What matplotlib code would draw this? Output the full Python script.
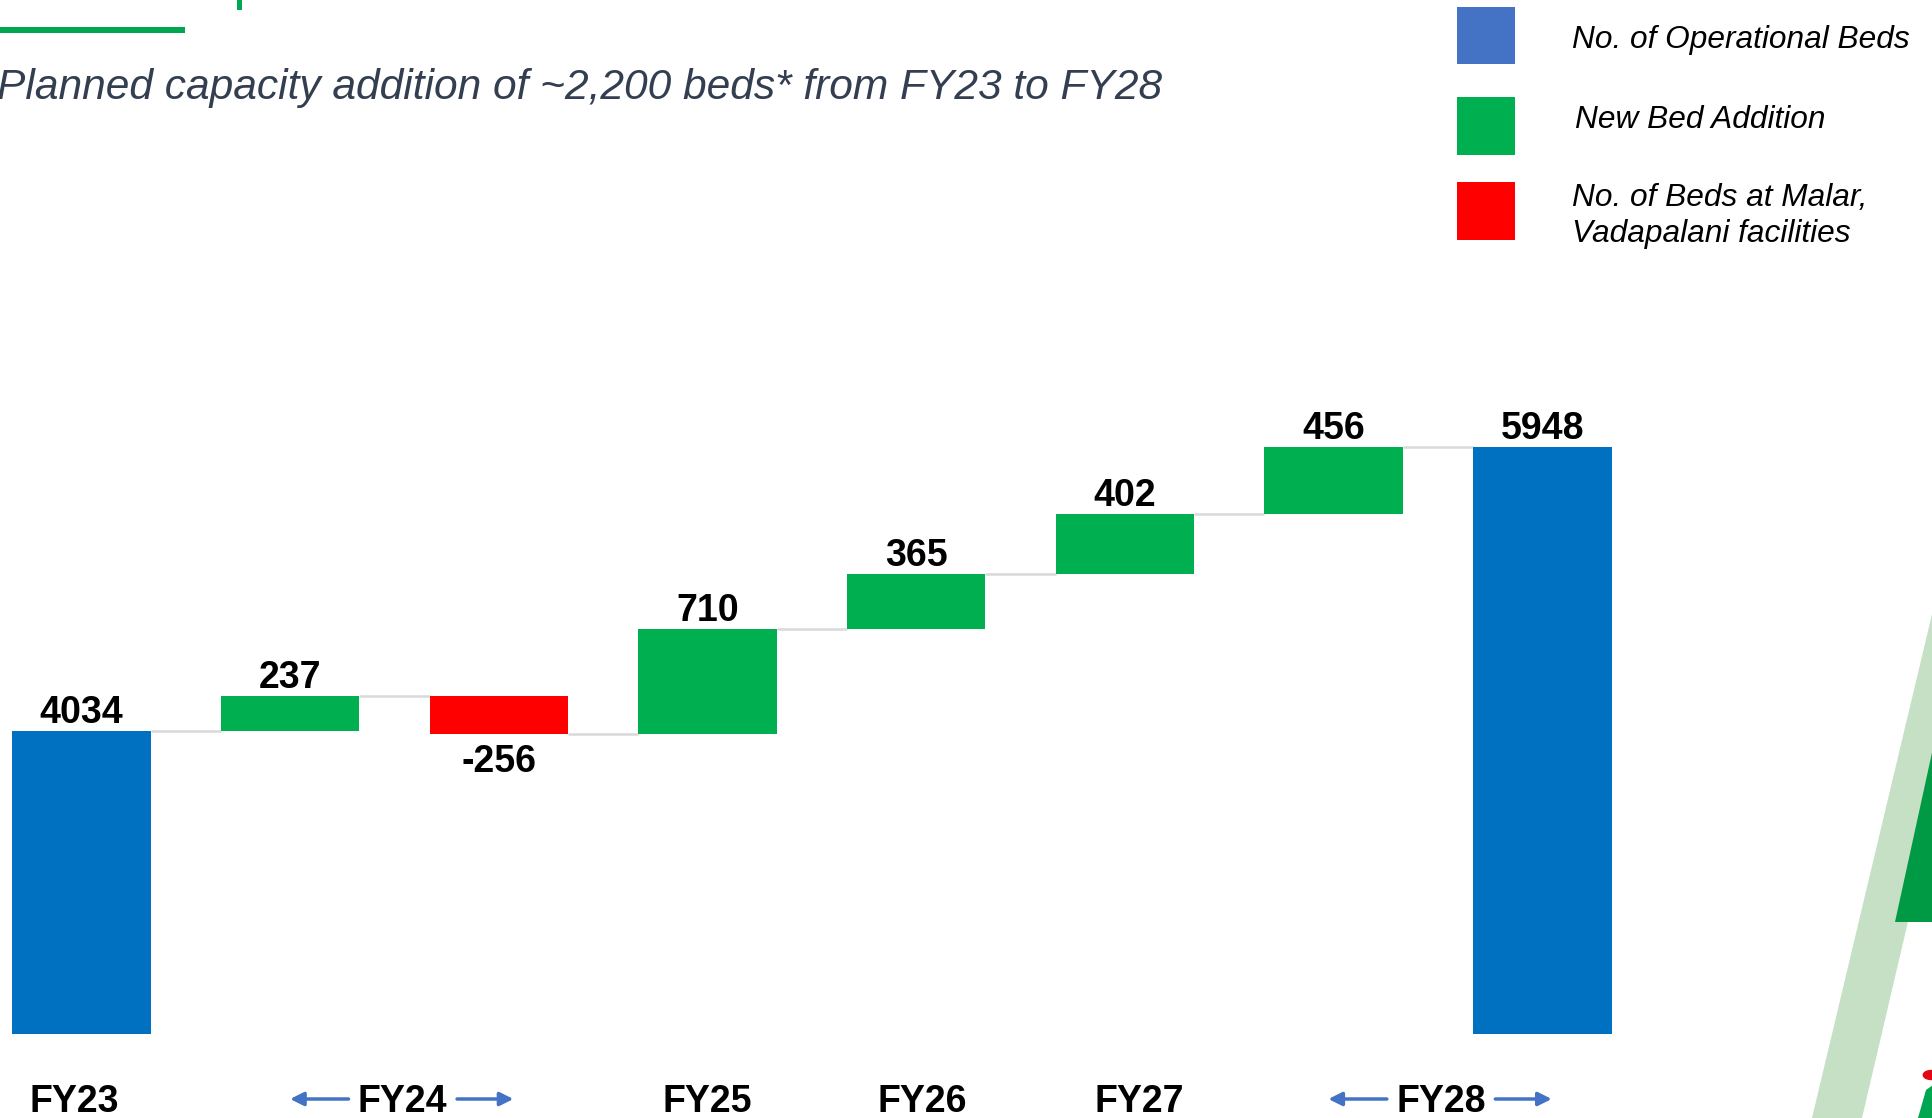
import matplotlib
matplotlib.use("Agg")
import matplotlib.pyplot as plt
from matplotlib.patches import Polygon, Rectangle, Circle
from matplotlib import font_manager as fm
import matplotlib.transforms as mtransforms

# ---------------- data ----------------
bar_values = [4034, 237, -256, 710, 365, 402, 456, 5948]
bar_kinds = ["total", "add", "malar", "add", "add", "add", "add", "total"]
period_labels = ["FY23", "FY24", "FY25", "FY26", "FY27", "FY28"]
period_pos = [-0.035, 1.54, 3.0, 4.03, 5.07, 6.515]
period_arrows = [False, True, False, False, False, True]
legend_labels = ["No. of Operational Beds", "New Bed Addition",
                 "No. of Beds at Malar,\nVadapalani facilities"]
title_text = "Planned capacity addition of ~2,200 beds* from FY23 to FY28"

colors = {"total": "#0070C0", "add": "#00B050", "malar": "#FF0000"}
legend_colors = ["#4472C4", "#00B050", "#FF0000"]

names = {f.name for f in fm.fontManager.ttflist}
bold_font = "Liberation Sans Narrow" if "Liberation Sans Narrow" in names else "Liberation Sans"

W, H = 1933, 1118
fig = plt.figure(figsize=(W / 100, H / 100), dpi=100)

def fx(px):
    return px / W

def fy(py):
    return 1 - py / H

# axes placement (bar bottoms at y=1034 px)
ax = fig.add_axes([0, fy(1034), 1, fy(300) - fy(1034)])
ax.set_xlim(-0.39, 8.872)
ax.set_ylim(2000, 2000 + 734 / 0.1488)
ax.axis("off")

width = 0.664
level = 0
tops = []
for i, (v, k) in enumerate(zip(bar_values, bar_kinds)):
    if k == "total":
        bottom, height = 0, v
        level = v
    else:
        bottom, height = level, v
        level = level + v
    ax.bar(i, height, bottom=bottom, width=width, color=colors[k], zorder=3)
    tops.append(level)
    if v >= 0:
        ax.annotate(str(v), (i, bottom + height), xytext=(0, 0), textcoords="offset points",
                    ha="center", va="bottom", fontsize=27, fontweight="bold",
                    family=bold_font, color="black")
    else:
        ax.annotate(str(v), (i, bottom + height), xytext=(0, -7), textcoords="offset points",
                    ha="center", va="top", fontsize=27, fontweight="bold",
                    family=bold_font, color="black")

# connectors
for i in range(len(bar_values) - 1):
    ax.plot([i + width / 2, i + 1 - width / 2], [tops[i], tops[i]],
            color="#D9D9D9", lw=1.8, zorder=2, solid_capstyle="butt")

# period labels
trans = mtransforms.blended_transform_factory(ax.transData, fig.transFigure)
aprops = dict(arrowstyle="-|>,head_length=0.8,head_width=0.4",
              color="#4472C4", lw=2.5, shrinkA=0, shrinkB=0)
for lab, pos, arr in zip(period_labels, period_pos, period_arrows):
    ax.text(pos, fy(1112), lab, transform=trans, ha="center", va="baseline",
            fontsize=27, fontweight="bold", family=bold_font, color="black", clip_on=False)
    if arr:
        ax.annotate("", xy=(pos - 0.54, fy(1099)), xytext=(pos - 0.26, fy(1099)),
                    xycoords=trans, textcoords=trans, arrowprops=aprops)
        ax.annotate("", xy=(pos + 0.53, fy(1099)), xytext=(pos + 0.26, fy(1099)),
                    xycoords=trans, textcoords=trans, arrowprops=aprops)

# title
fig.text(fx(-3), fy(88), title_text, ha="left", va="center", fontsize=30.6,
         style="italic", family="Liberation Sans", color="#333F50")

# top-left green decorations
fig.add_artist(Rectangle((fx(0), fy(33)), fx(185), fy(27) - fy(33),
                         transform=fig.transFigure, color="#00A650", lw=0))
fig.add_artist(Rectangle((fx(237), fy(10)), fx(5), fy(0) - fy(10),
                         transform=fig.transFigure, color="#00A650", lw=0))

# legend
sq_y = [(7, 64), (97, 155), (182, 240)]
for (y0, y1), c in zip(sq_y, legend_colors):
    fig.add_artist(Rectangle((fx(1457), fy(y1)), fx(1515) - fx(1457), fy(y0) - fy(y1),
                             transform=fig.transFigure, color=c, lw=0))
fig.text(fx(1572), fy(40), legend_labels[0], ha="left", va="center", fontsize=22.8,
         style="italic", family="Liberation Sans", color="black")
fig.text(fx(1575), fy(120), legend_labels[1], ha="left", va="center", fontsize=22.8,
         style="italic", family="Liberation Sans", color="black")
fig.text(fx(1572), fy(216), legend_labels[2], ha="left", va="center", fontsize=22.8,
         style="italic", family="Liberation Sans", color="black", linespacing=1.3)

# right-side decorations
def poly(pts, color):
    fig.add_artist(Polygon([(fx(x), fy(y)) for x, y in pts], closed=True,
                           transform=fig.transFigure, color=color, lw=0))

poly([(1812, 1118), (1862, 1118), (1933, 815), (1933, 610)], "#C5E0C5")
poly([(1895, 922), (1933, 922), (1933, 748)], "#009A44")
fig.add_artist(Circle((fx(1931), fy(1075)), 0.004, transform=fig.transFigure, color="#E30613"))
poly([(1918, 1118), (1926, 1090), (1933, 1085), (1933, 1118)], "#00A650")

fig.savefig("out.png", dpi=100)
